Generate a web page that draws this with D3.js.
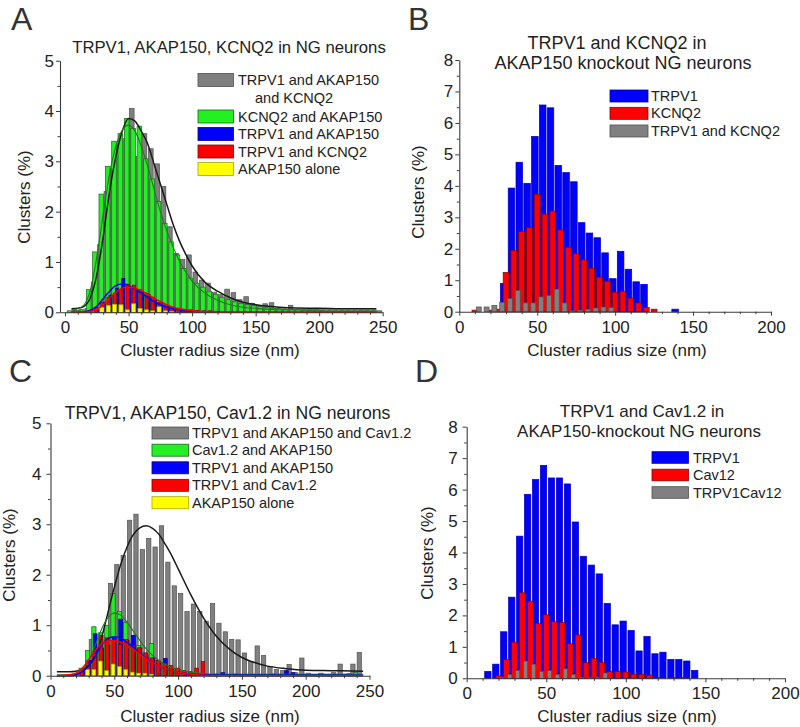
<!DOCTYPE html>
<html><head><meta charset="utf-8">
<script src="https://cdn.jsdelivr.net/npm/d3@7"></script>
<style>body{margin:0;background:#fff}svg{display:block}</style>
</head><body>
<svg id="c" width="800" height="727"></svg>
<script>
// ---------------- DATA ----------------
// Panel A bins (nm, bin centres) and series (% clusters)
const binsA = [5,10,15,20,25,30,35,40,45,50,55,60,65,70,75,80,85,90,95,100,105,110,115,120,125,130,135,140,145,150,155,160,165,170,175,180,185,190,195,200,205,210,215,220,225,230,235,240,245];
const aTriple    = [0.05,0.05,0.08,0.6,1.35,2.4,2.85,3.35,3.45,4.05,3.1,3.55,3.25,2.95,2.5,1.7,1.17,1.05,1.14,0.8,0.64,0.58,0.4,0.35,0.46,0.39,0.25,0.31,0.18,0.14,0.17,0.19,0.08,0.07,0.14,0.05,0.05,0.05,0.08,0.04,0.03,0.03,0.03,0.03,0.03,0.03,0.03,0.03,0.03];
const aKcnq2Akap = [0.03,0.03,0.05,0.45,1.2,2.35,2.9,3.4,3.55,3.85,3.65,3.7,3.05,2.65,2.2,1.77,1.4,1.14,0.87,0.68,0.58,0.5,0.42,0.36,0.3,0.25,0.21,0.18,0.15,0.13,0.11,0.09,0.08,0.07,0.06,0.05,0.05,0.04,0.04,0.04,0.03,0.03,0.03,0.03,0.03,0.03,0.03,0.03,0.03];
const aTrpv1Akap = [0,0,0,0,0.05,0.2,0.34,0.48,0.67,0.5,0.45,0.4,0.35,0.25,0.2,0.12,0.08,0.05,0.03,0,0,0,0,0,0,0,0,0,0,0,0,0,0,0,0,0,0,0,0,0,0,0,0,0,0,0,0,0,0];
const aTrpv1Kcnq2= [0,0,0,0.03,0.1,0.2,0.3,0.38,0.45,0.56,0.54,0.45,0.38,0.3,0.2,0.15,0.1,0.08,0.06,0.05,0.04,0.03,0.03,0.02,0,0,0,0,0,0,0,0,0,0,0,0,0,0,0,0,0,0,0,0,0,0,0,0,0];
const aAkapAlone = [0,0,0,0,0,0.1,0.14,0.16,0.15,0.05,0.17,0.08,0.05,0.03,0.11,0.03,0.02,0,0,0,0,0,0,0,0,0,0,0,0,0,0,0,0,0,0,0,0,0,0,0,0,0,0,0,0,0,0,0,0];
// Panel A fitted curves
const fitAx          = [5,10,15,20,25,30,35,40,45,50,55,60,65,70,75,80,85,90,95,100,110,120,130,140,150,160,175,200,225,245];
const fitATriple     = [0.07,0.08,0.12,0.3,0.75,1.5,2.4,3.1,3.6,3.85,3.8,3.6,3.35,2.95,2.55,2.15,1.75,1.42,1.15,0.92,0.6,0.42,0.29,0.2,0.15,0.12,0.09,0.08,0.07,0.07];
const fitAKcnq2Akap  = [0.05,0.07,0.15,0.45,1.1,1.95,2.75,3.3,3.62,3.72,3.6,3.3,2.9,2.45,2.0,1.62,1.3,1.02,0.8,0.62,0.38,0.24,0.15,0.1,0.08,0.06,0.05,0.05,0.05,0.05];
const fitATrpv1Akap  = [0,0,0.01,0.04,0.12,0.27,0.42,0.53,0.56,0.53,0.46,0.38,0.29,0.21,0.15,0.1,0.07,0.05,0.03,0.02,0.01,0,0,0,0,0,0,0,0,0];
const fitATrpv1Kcnq2 = [0,0,0,0.02,0.06,0.15,0.28,0.4,0.48,0.5,0.48,0.43,0.36,0.28,0.21,0.15,0.1,0.07,0.05,0.03,0.01,0,0,0,0,0,0,0,0,0];

// Panel B
const binsB   = [5,10,15,20,25,30,35,40,45,50,55,60,65,70,75,80,85,90,95,100,105,110,115,120,125,130,135,140];
const bTrpv1  = [0,0,0,0,0,0.9,3.93,4.75,4.08,5.57,6.57,6.48,4.65,4.42,4.13,2.83,2.5,2.35,1.87,1.05,1.92,1.35,0.95,0.87,0,0,0,0.08];
const bKcnq2  = [0,0.05,0,0.05,0.08,1.25,1.95,2.55,2.67,3.73,3.1,3.2,2.6,2.05,1.85,1.65,1.38,1.1,0.97,0.62,0.65,0.43,0.28,0.13,0.08,0,0,0];
const bBoth   = [0,0.15,0.15,0.2,0.3,0.42,0.68,0.28,0.28,0.47,0.52,0.72,0.28,0.03,0.05,0.08,0.12,0.15,0.13,0,0,0,0,0,0,0,0,0];

// Panel C
const binsC       = [20,25,30,35,40,45,50,55,60,65,70,75,80,85,90,95,100,105,110,115,120,125,130,135,140,145,150,155,160,165,170,175,180,185,190,195,200,205,210,215,220,225,230,235,240];
const cTriple     = [0.03,0.1,0.72,0.5,0.8,1.83,2.2,2.38,3.08,3.2,2.5,2.72,2.55,2.97,2.25,1.78,1.63,1.27,1.42,1.27,1.08,1.43,1.04,0.87,0.72,0.71,0.45,0.28,0.59,0.4,0.18,0.12,0.1,0.22,0.06,0.35,0.05,0.02,0.05,0.02,0.06,0.23,0.03,0.23,0.46];
const cCav12Akap  = [0.03,0.15,0.5,0.97,0.85,1.0,1.63,1.27,1.05,0.65,0.6,0.45,0.64,0.3,0.25,0.15,0.1,0.1,0.05,0.04,0.03,0.03,0.03,0.03,0.03,0.03,0.03,0.03,0.03,0.03,0.03,0.03,0.03,0.03,0.03,0.03,0.03,0.03,0.03,0.03,0.03,0.03,0.03,0.04,0.06];
const cTrpv1Akap  = [0,0.1,0.3,0.83,0.55,0.6,0.75,1.12,0.7,0.8,0.55,0.4,0.35,0.25,0.34,0.15,0.12,0.06,0.05,0.03,0.04,0.02,0.03,0.06,0.02,0.03,0.02,0.02,0.02,0.02,0.01,0.03,0.02,0.1,0.06,0,0,0,0,0,0,0,0,0,0];
const cTrpv1Cav12 = [0,0.1,0.25,0.45,0.8,0.75,0.7,0.62,0.72,0.6,0.55,0.45,0.35,0.3,0.25,0.2,0.15,0.1,0.08,0.15,0.28,0.02,0,0,0,0,0,0,0,0,0,0,0,0,0,0,0,0,0,0,0,0,0,0,0];
const cAkapAlone  = [0,0,0.12,0.12,0.29,0.1,0.23,0.18,0.12,0.07,0.05,0.05,0.03,0,0,0,0,0,0,0,0,0,0,0,0,0,0,0,0,0,0,0,0,0,0,0,0,0,0,0,0,0,0,0,0];
const fitCx          = [5,15,20,25,30,35,40,45,50,55,60,65,70,75,80,85,90,95,100,110,120,130,140,150,160,170,185,200,220,245];
const fitCTriple     = [0.08,0.08,0.09,0.12,0.2,0.38,0.75,1.25,1.75,2.2,2.55,2.8,2.93,2.97,2.92,2.8,2.6,2.38,2.12,1.6,1.14,0.78,0.53,0.36,0.26,0.19,0.14,0.11,0.1,0.09];
const fitCCav12Akap  = [0.02,0.02,0.03,0.12,0.3,0.6,0.92,1.15,1.24,1.2,1.06,0.88,0.7,0.53,0.4,0.3,0.22,0.16,0.12,0.07,0.04,0.03,0.03,0.03,0.03,0.03,0.03,0.03,0.03,0.03];
const fitCTrpv1Akap  = [0,0,0.02,0.08,0.2,0.4,0.6,0.73,0.77,0.74,0.66,0.56,0.45,0.35,0.26,0.19,0.14,0.1,0.07,0.03,0.02,0.01,0.01,0.01,0.01,0.01,0.01,0.01,0.01,0.01];
const fitCTrpv1Cav12 = [0,0.02,0.05,0.15,0.32,0.5,0.63,0.69,0.7,0.66,0.6,0.52,0.43,0.34,0.26,0.19,0.14,0.1,0.07,0.03,0.01,0,0,0,0,0,0,0,0,0];

// Panel D
const binsD   = [10,15,20,25,30,35,40,45,50,55,60,65,70,75,80,85,90,95,100,105,110,115,120,125,130,135,140,145];
const dTrpv1  = [0,0.22,0.45,1.48,2.58,4.52,5.85,6.32,6.77,6.37,6.37,6.18,4.97,3.88,3.6,3.32,2.38,1.7,1.82,1.52,0.87,1.33,0.78,0.83,0.6,0.6,0.55,0.25];
const dCav12  = [0,0,0.08,0.6,1.15,2.72,2.45,1.75,2.02,1.8,1.77,1.1,1.38,0.5,0.63,0.5,0.22,0.22,0.2,0.13,0.12,0.1,0.02,0,0.02,0.03,0,0];
const dBoth   = [0,0,0.03,0.12,0.25,0.55,0.45,0.22,0.25,0.12,0.3,0.12,0.03,0.02,0.03,0.17,0,0,0,0,0,0,0,0,0,0,0,0];

// Ticks
const ticks5 = [0,1,2,3,4,5];
const ticks8 = [0,1,2,3,4,5,6,7,8];
const xTicks250 = [0,50,100,150,200,250];
const xTicks200 = [0,50,100,150,200];

// ---------------- DRAWING ----------------
const FF = "'Liberation Sans', Arial, Helvetica, sans-serif";
const TXT = "#222";
const AX = "#3a3a3a";
const svg = d3.select("#c");

const C = {
  grey:  {fill:"#808080", stroke:"#505050"},
  green: {fill:"#22f022", stroke:"#1b661b"},
  blue:  {fill:"#0000ff", stroke:"#00008a"},
  red:   {fill:"#ff0000", stroke:"#8a0000"},
  yellow:{fill:"#ffff00", stroke:"#a8a800"}
};

function drawPanel(p) {
  const g = svg.append("g");
  const x = d3.scaleLinear().domain(p.xDomain).range([p.left, p.right]);
  const y = d3.scaleLinear().domain(p.yDomain).range([p.bottom, p.top]);

  p.series.forEach(s => {
    const data = s.bins.map((b, i) => ({b, v: s.values[i]})).filter(d => d.v > 0);
    g.append("g").selectAll("rect").data(data).join("rect")
      .attr("x", d => x(d.b + s.offset) - s.w / 2)
      .attr("width", s.w)
      .attr("y", d => y(d.v))
      .attr("height", d => y(0) - y(d.v))
      .attr("fill", s.col.fill).attr("stroke", s.col.stroke).attr("stroke-width", 0.7);
  });

  (p.fits || []).forEach(f => {
    const line = d3.line().x((d, i) => x(f.xs[i])).y(d => y(d)).curve(d3.curveMonotoneX);
    g.append("path").attr("d", line(f.ys)).attr("fill", "none")
      .attr("stroke", f.color).attr("stroke-width", f.w);
  });

  const styleAxis = a => {
    a.selectAll(".domain").attr("stroke", AX).attr("stroke-width", 1.1);
    a.selectAll(".tick line").attr("stroke", AX).attr("stroke-width", 1);
    a.selectAll("text").attr("fill", TXT).attr("font-family", FF).attr("font-size", 17);
  };
  const yMinor = d3.range(p.yDomain[0], p.yDomain[1], 0.5).filter(v => v % 1 !== 0);
  const xMinor = d3.range(0, p.xDomain[1], 10).filter(v => v % 50 !== 0);

  const ya = g.append("g").attr("transform", `translate(${p.left},0)`)
    .call(d3.axisLeft(y).tickValues(p.yTicks).tickSize(4).tickSizeOuter(0).tickPadding(p.yPad).tickFormat(d3.format("d")));
  styleAxis(ya);
  const yam = g.append("g").attr("transform", `translate(${p.left},0)`)
    .call(d3.axisLeft(y).tickValues(yMinor).tickSize(2.5).tickFormat(""));
  yam.select(".domain").remove(); styleAxis(yam);

  const xa = g.append("g").attr("transform", `translate(0,${p.bottom})`)
    .call(d3.axisBottom(x).tickValues(p.xTicks).tickSize(4).tickSizeOuter(0).tickPadding(p.xPad).tickFormat(d3.format("d")));
  styleAxis(xa);
  const xam = g.append("g").attr("transform", `translate(0,${p.bottom})`)
    .call(d3.axisBottom(x).tickValues(xMinor).tickSize(2.5).tickFormat(""));
  xam.select(".domain").remove(); styleAxis(xam);

  g.append("text").attr("x", p.xLabel[0]).attr("y", p.xLabel[1]).attr("text-anchor", "middle")
    .attr("font-family", FF).attr("font-size", 17).attr("fill", TXT).text("Cluster radius size (nm)");
  g.append("text").attr("transform", `translate(${p.yLabel[0]},${p.yLabel[1]}) rotate(-90)`)
    .attr("text-anchor", "middle").attr("dominant-baseline", "central")
    .attr("font-family", FF).attr("font-size", 17).attr("fill", TXT).text("Clusters (%)");

  p.title.forEach(t => {
    g.append("text").attr("x", t.x).attr("y", t.y).attr("text-anchor", "middle")
      .attr("font-family", FF).attr("font-size", t.fs).attr("fill", TXT).text(t.text);
  });

  g.append("text").attr("x", p.letter.x).attr("y", p.letter.y)
    .attr("font-family", FF).attr("font-size", 32).attr("fill", "#333").text(p.letter.t);

  const L = p.legend;
  L.rows.forEach(r => {
    g.append("rect").attr("x", L.x).attr("y", r.cy - L.h / 2).attr("width", L.w).attr("height", L.h)
      .attr("fill", r.col.fill).attr("stroke", r.col.stroke).attr("stroke-width", 0.8);
    r.lines.forEach((ln, k) => {
      g.append("text").attr("x", L.tx + (k > 0 ? L.indent : 0)).attr("y", r.cy + 5 + k * 18)
        .attr("font-family", FF).attr("font-size", 14.5).attr("fill", TXT).text(ln);
    });
  });
}

// Panel A
drawPanel({
  left: 60, right: 382.7, top: 60.7, bottom: 312.3, xDomain: [-4, 250], yDomain: [0, 5],
  yTicks: ticks5, xTicks: xTicks250, yPad: 2, xPad: 5,
  series: [
    {bins: binsA, values: aTriple, col: C.grey, offset: 2.5, w: 4.6},
    {bins: binsA, values: aKcnq2Akap, col: C.green, offset: -1.5, w: 4.6},
    {bins: binsA, values: aTrpv1Akap, col: C.blue, offset: 0.8, w: 3.2},
    {bins: binsA, values: aTrpv1Kcnq2, col: C.red, offset: -0.8, w: 3.2},
    {bins: binsA, values: aAkapAlone, col: C.yellow, offset: -1, w: 4.2}
  ],
  fits: [
    {xs: fitAx, ys: fitATriple, color: "#1a1a1a", w: 1.5},
    {xs: fitAx, ys: fitAKcnq2Akap, color: "#1f7a1f", w: 1.1},
    {xs: fitAx, ys: fitATrpv1Akap, color: "#0000ff", w: 1.5},
    {xs: fitAx, ys: fitATrpv1Kcnq2, color: "#ff0000", w: 1.5}
  ],
  xLabel: [210, 356], yLabel: [24, 197],
  title: [{text: "TRPV1, AKAP150, KCNQ2 in NG neurons", x: 229, y: 52.5, fs: 16.7}],
  letter: {t: "A", x: 11, y: 30},
  legend: {x: 198, w: 35.5, h: 13, tx: 238, indent: 17, rows: [
    {col: C.grey, cy: 80, lines: ["TRPV1 and AKAP150", "and KCNQ2"]},
    {col: C.green, cy: 116.5, lines: ["KCNQ2 and AKAP150"]},
    {col: C.blue, cy: 134, lines: ["TRPV1 and AKAP150"]},
    {col: C.red, cy: 151.5, lines: ["TRPV1 and KCNQ2"]},
    {col: C.yellow, cy: 169, lines: ["AKAP150 alone"]}
  ]}
});

// Panel B
drawPanel({
  left: 459.3, right: 771, top: 60, bottom: 311.7, xDomain: [0, 200], yDomain: [0, 8],
  yTicks: ticks8, xTicks: xTicks200, yPad: 2, xPad: 5,
  series: [
    {bins: binsB, values: bTrpv1, col: {fill: "#0000ff", stroke: "#0000b0"}, offset: -1.5, w: 6.6},
    {bins: binsB, values: bKcnq2, col: C.red, offset: 0, w: 5.8},
    {bins: binsB, values: bBoth, col: C.grey, offset: 2.5, w: 5}
  ],
  xLabel: [617, 356], yLabel: [418, 192],
  title: [
    {text: "TRPV1 and KCNQ2 in", x: 617, y: 49, fs: 18},
    {text: "AKAP150 knockout NG neurons", x: 623, y: 68.5, fs: 18}
  ],
  letter: {t: "B", x: 408, y: 30},
  legend: {x: 610, w: 38, h: 12, tx: 651, indent: 0, rows: [
    {col: {fill: "#0000ff", stroke: "#0000b0"}, cy: 96, lines: ["TRPV1"]},
    {col: C.red, cy: 113.3, lines: ["KCNQ2"]},
    {col: C.grey, cy: 131, lines: ["TRPV1 and KCNQ2"]}
  ]}
});

// Panel C
drawPanel({
  left: 50.5, right: 369.5, top: 423.3, bottom: 675.7, xDomain: [0, 250], yDomain: [0, 5],
  yTicks: ticks5, xTicks: xTicks250, yPad: 5, xPad: 5,
  series: [
    {bins: binsC, values: cTriple, col: C.grey, offset: 2, w: 4.3},
    {bins: binsC, values: cCav12Akap, col: C.green, offset: -1, w: 4.3},
    {bins: binsC, values: cTrpv1Akap, col: C.blue, offset: 0, w: 3.8},
    {bins: binsC, values: cTrpv1Cav12, col: C.red, offset: -0.5, w: 3.6},
    {bins: binsC, values: cAkapAlone, col: C.yellow, offset: -1, w: 3.8}
  ],
  fits: [
    {xs: fitCx, ys: fitCTriple, color: "#1a1a1a", w: 1.5},
    {xs: fitCx, ys: fitCCav12Akap, color: "#1f7a1f", w: 1.1},
    {xs: fitCx, ys: fitCTrpv1Akap, color: "#0000ff", w: 1.5},
    {xs: fitCx, ys: fitCTrpv1Cav12, color: "#ff0000", w: 1.5}
  ],
  xLabel: [210, 722], yLabel: [9, 555],
  title: [{text: "TRPV1, AKAP150, Cav1.2 in NG neurons", x: 227.5, y: 418.5, fs: 17.6}],
  letter: {t: "C", x: 9, y: 382},
  legend: {x: 152, w: 36.5, h: 12, tx: 192, indent: 0, rows: [
    {col: C.grey, cy: 433, lines: ["TRPV1 and AKAP150 and Cav1.2"]},
    {col: C.green, cy: 450.2, lines: ["Cav1.2 and AKAP150"]},
    {col: C.blue, cy: 467.8, lines: ["TRPV1 and AKAP150"]},
    {col: C.red, cy: 485.3, lines: ["TRPV1 and Cav1.2"]},
    {col: C.yellow, cy: 502.7, lines: ["AKAP150 alone"]}
  ]}
});

// Panel D
drawPanel({
  left: 466.7, right: 785, top: 426.7, bottom: 678.3, xDomain: [0, 200], yDomain: [0, 8],
  yTicks: ticks8, xTicks: xTicks200, yPad: 5, xPad: 5,
  series: [
    {bins: binsD, values: dTrpv1, col: {fill: "#0000ff", stroke: "#0000b0"}, offset: -1.7, w: 6.3},
    {bins: binsD, values: dCav12, col: C.red, offset: 0, w: 5.7},
    {bins: binsD, values: dBoth, col: C.grey, offset: 2, w: 4.3}
  ],
  xLabel: [627, 722], yLabel: [427, 553],
  title: [
    {text: "TRPV1 and Cav1.2 in", x: 642, y: 416.7, fs: 17},
    {text: "AKAP150-knockout NG neurons", x: 639, y: 436.7, fs: 17}
  ],
  letter: {t: "D", x: 415, y: 382},
  legend: {x: 652, w: 36.5, h: 11.6, tx: 693, indent: 0, rows: [
    {col: {fill: "#0000ff", stroke: "#0000b0"}, cy: 457.5, lines: ["TRPV1"]},
    {col: C.red, cy: 475, lines: ["Cav12"]},
    {col: C.grey, cy: 492.5, lines: ["TRPV1Cav12"]}
  ]}
});
</script>
</body></html>
